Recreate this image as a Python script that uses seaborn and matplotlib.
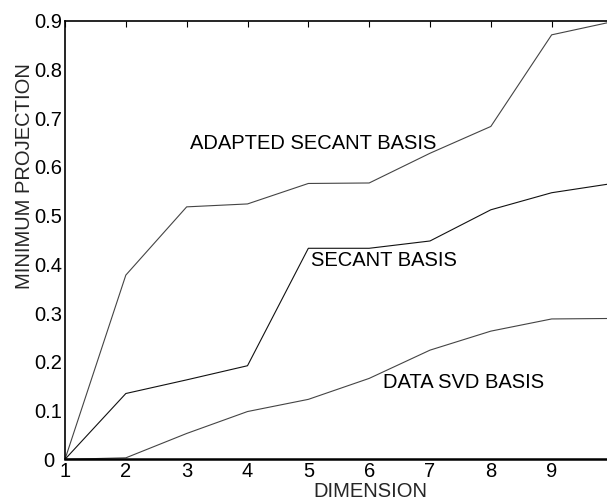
import matplotlib
matplotlib.use("Agg")
import matplotlib.pyplot as plt
import matplotlib.transforms as mtransforms
import seaborn as sns
import pandas as pd

dimension = [1, 2, 3, 4, 5, 6, 7, 8, 9, 10]
adapted_secant = [0.0, 0.378, 0.518, 0.524, 0.566, 0.567, 0.628, 0.683, 0.871, 0.898]
secant = [0.0, 0.135, 0.163, 0.192, 0.433, 0.433, 0.448, 0.512, 0.547, 0.566]
data_svd = [0.0, 0.003, 0.053, 0.098, 0.123, 0.166, 0.224, 0.263, 0.288, 0.289]
series_names = ["ADAPTED SECANT BASIS", "SECANT BASIS", "DATA SVD BASIS"]
label_pos = [(3.06, 0.648), (5.04, 0.407), (6.22, 0.157)]
x_ticks = [1, 2, 3, 4, 5, 6, 7, 8, 9]
y_ticks = [0, 0.1, 0.2, 0.3, 0.4, 0.5, 0.6, 0.7, 0.8, 0.9]
y_ticklabels = ["0", "0.1", "0.2", "0.3", "0.4", "0.5", "0.6", "0.7", "0.8", "0.9"]

df = pd.DataFrame({
    "dimension": dimension * 3,
    "value": adapted_secant + secant + data_svd,
    "series": sum([[n] * len(dimension) for n in series_names], []),
})

sns.set_style("white")
plt.rcParams["font.family"] = ["Liberation Sans", "DejaVu Sans"]

fig = plt.figure(figsize=(6.07, 5.04), dpi=100)
W, H = 607, 504
left, right, top, bottom = 65, 612.5, 20.7, 459.3
ax = fig.add_axes([left / W, 1 - bottom / H, (right - left) / W, (bottom - top) / H])

sns.lineplot(data=df, x="dimension", y="value", hue="series",
             palette={series_names[0]: "#444444", series_names[1]: "#111111",
                      series_names[2]: "#444444"},
             linewidth=0.8, legend=False, ax=ax)

fs = 14.5
for name, (tx, ty) in zip(series_names, label_pos):
    ax.text(tx, ty, name, fontsize=fs, ha="left", va="center", color="black")

ax.set_xlim(1, 10)
ax.set_ylim(0, 0.9)
ax.set_xticks(x_ticks)
ax.set_yticks(y_ticks)
ax.set_yticklabels(y_ticklabels)
ax.tick_params(direction="in", length=4, width=0.8, labelsize=fs, top=True,
               right=True, colors="black", pad=2)
for s in ax.spines.values():
    s.set_color("black")
    s.set_linewidth(1.2)
ax.spines["bottom"].set_linewidth(1.8)

# nudge the "0" label left so it does not touch the "1" below it
zero_lbl = ax.get_yticklabels()[0]
zero_lbl.set_transform(zero_lbl.get_transform() +
                       mtransforms.ScaledTranslation(-8 / 100, 0, fig.dpi_scale_trans))

ax.set_xlabel("DIMENSION", fontsize=fs)
ax.set_ylabel("MINIMUM PROJECTION", fontsize=fs)
ax.xaxis.set_label_coords((370 - left) / (right - left), (bottom - 491.5) / (bottom - top))
ax.xaxis.label.set_va("center")
ax.yaxis.set_label_coords((25 - left) / (right - left), (bottom - 176.5) / (bottom - top))
ax.yaxis.label.set_va("center")

fig.savefig("out.png", dpi=100)
